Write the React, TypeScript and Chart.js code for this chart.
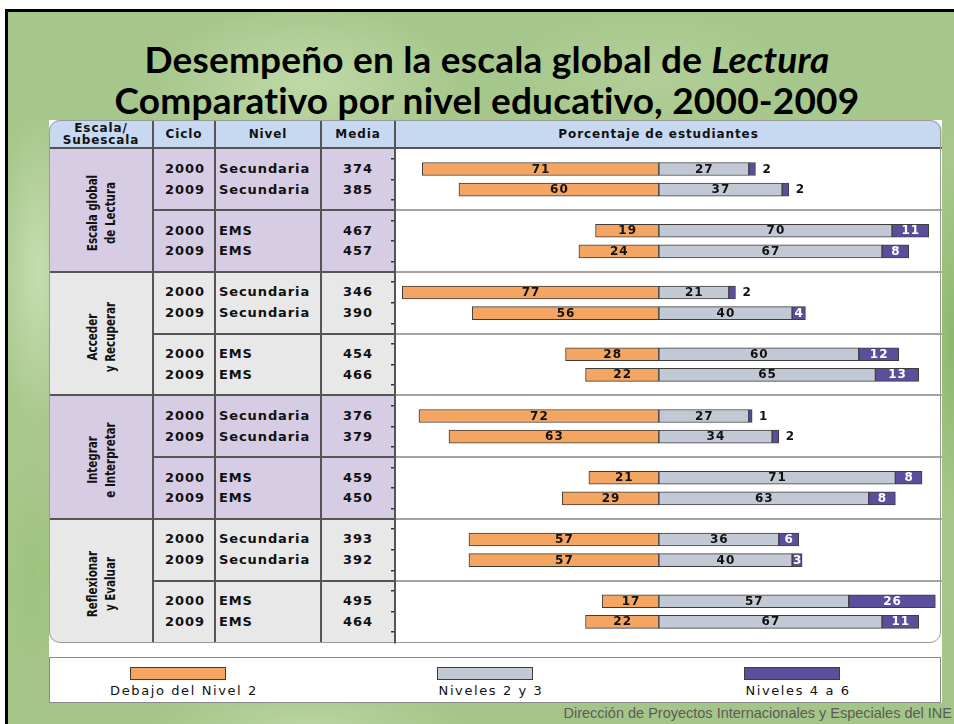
import React, { useEffect, useRef } from 'react';
import { Chart, registerables } from 'chart.js';

Chart.register(...registerables);

// ---------- data ----------
const titleLine1 = 'Desempeño en la escala global de ';
const titleItalic = 'Lectura';
const titleLine2 = 'Comparativo por nivel educativo, 2000-2009';
const headers = ['Escala/\nSubescala', 'Ciclo', 'Nivel', 'Media', 'Porcentaje de estudiantes'];
const escalas = ['Escala global\nde Lectura', 'Acceder\ny Recuperar', 'Integrar\ne Interpretar', 'Reflexionar\ny Evaluar'];
const ciclos = ['2000', '2009', '2000', '2009', '2000', '2009', '2000', '2009', '2000', '2009', '2000', '2009', '2000', '2009', '2000', '2009'];
const niveles = ['Secundaria', 'Secundaria', 'EMS', 'EMS', 'Secundaria', 'Secundaria', 'EMS', 'EMS', 'Secundaria', 'Secundaria', 'EMS', 'EMS', 'Secundaria', 'Secundaria', 'EMS', 'EMS'];
const medias = [374, 385, 467, 457, 346, 390, 454, 466, 376, 379, 459, 450, 393, 392, 495, 464];
const debajoNivel2 = [71, 60, 19, 24, 77, 56, 28, 22, 72, 63, 21, 29, 57, 57, 17, 22];
const niveles2y3 = [27, 37, 70, 67, 21, 40, 60, 65, 27, 34, 71, 63, 36, 40, 57, 67];
const niveles4a6 = [2, 2, 11, 8, 2, 4, 12, 13, 1, 2, 8, 8, 6, 3, 26, 11];
const seriesNames = ['Debajo del Nivel 2', 'Niveles 2 y 3', 'Niveles 4 a 6'];
const footer = 'Dirección de Proyectos Internacionales y Especiales del INE';

// ---------- styles / layout ----------
const COLORS = ['#F4A562', '#C2C9D5', '#5B4F9D'];
const BAR_BORDER = '#3d3d3d';
const W = 954;
const H = 724;
const PLOT_L = 395;
const PLOT_R = 942;
const PLOT_T = 148.4;
const PLOT_B = 642.4;
const SLOTS = 24;
const SLOT = (PLOT_B - PLOT_T) / SLOTS;
const X_MIN = -79.2;
const X_MAX = 85;
const TBL_L = 49;
const TBL_T = 120;
const TBL_W = 893;
const TBL_H = 523;
const LINE = '#555';
const FONT = '"DejaVu Sans", Verdana, sans-serif';

const rowPos = (i: number) => Math.floor(i / 2) * 3 + (i % 2) + 1;
const yOf = (pos: number) => PLOT_T + pos * SLOT;
const valueSets = [debajoNivel2, niveles2y3, niveles4a6];

const labelPlugin = {
  id: 'barLabels',
  afterDatasetsDraw(chart: any) {
    const ctx = chart.ctx;
    ctx.save();
    ctx.font = `bold 12px ${FONT}`;
    (ctx as any).letterSpacing = '1px';
    ctx.textBaseline = 'middle';
    chart.data.datasets.forEach((_ds: any, di: number) => {
      const meta = chart.getDatasetMeta(di);
      meta.data.forEach((bar: any, i: number) => {
        const v = valueSets[di][i];
        const { x, base, y } = bar.getProps(['x', 'base', 'y'], true);
        const left = Math.min(x, base);
        const right = Math.max(x, base);
        if (di === 2 && v <= 2) {
          ctx.fillStyle = '#111';
          ctx.textAlign = 'left';
          ctx.fillText(String(v), right + 7, y + 0.5);
        } else {
          ctx.fillStyle = di === 2 ? '#fff' : '#111';
          ctx.textAlign = 'center';
          ctx.fillText(String(v), (left + right) / 2 + 0.5, y + 0.5);
        }
      });
    });
    ctx.restore();
  },
};

const GREEN_BG = [
  'radial-gradient(ellipse 220px 110px at 300px 70px, rgba(208,228,188,0.6), rgba(208,228,188,0) 70%)',
  'radial-gradient(ellipse 200px 90px at 640px 60px, rgba(190,215,165,0.5), rgba(190,215,165,0) 70%)',
  'radial-gradient(ellipse 60px 220px at 30px 260px, rgba(210,230,192,0.7), rgba(210,230,192,0) 70%)',
  'radial-gradient(ellipse 40px 260px at 945px 330px, rgba(120,172,88,0.6), rgba(120,172,88,0) 70%)',
  'radial-gradient(ellipse 240px 60px at 300px 712px, rgba(200,222,180,0.6), rgba(200,222,180,0) 70%)',
  'radial-gradient(ellipse 50px 160px at 25px 560px, rgba(150,190,115,0.5), rgba(150,190,115,0) 70%)',
  'linear-gradient(180deg, #a6c78b 0%, #a9c98d 50%, #a3c587 100%)',
].join(', ');

const rowText: React.CSSProperties = {
  position: 'absolute',
  height: 16,
  lineHeight: '16px',
  fontSize: 13,
  fontWeight: 'bold',
  letterSpacing: '0.9px',
  color: '#111',
  whiteSpace: 'nowrap',
};

export default function App() {
  const canvasRef = useRef<HTMLCanvasElement | null>(null);

  useEffect(() => {
    const canvas = canvasRef.current;
    if (!canvas) return;
    const chart = new Chart(canvas, {
      type: 'bar',
      data: {
        datasets: [
          {
            label: seriesNames[0],
            data: debajoNivel2.map((v, i) => ({ x: -v, y: rowPos(i) })),
            backgroundColor: COLORS[0],
          },
          {
            label: seriesNames[1],
            data: niveles2y3.map((v, i) => ({ x: v, y: rowPos(i) })),
            backgroundColor: COLORS[1],
          },
          {
            label: seriesNames[2],
            data: niveles4a6.map((v, i) => ({ x: v, y: rowPos(i) })),
            backgroundColor: COLORS[2],
          },
        ].map((d) => ({
          ...d,
          stack: 'pct',
          borderColor: BAR_BORDER,
          borderWidth: 1,
          borderSkipped: false,
          barThickness: 13,
        })) as any,
      },
      options: {
        indexAxis: 'y',
        responsive: false,
        animation: false,
        devicePixelRatio: 1,
        layout: {
          padding: { left: PLOT_L - 4, right: W - PLOT_R, top: PLOT_T, bottom: H - PLOT_B },
        },
        plugins: { legend: { display: false }, tooltip: { enabled: false } },
        scales: {
          x: { type: 'linear', stacked: true, min: X_MIN, max: X_MAX, display: false },
          y: {
            type: 'linear',
            min: 0,
            max: SLOTS,
            reverse: true,
            offset: false,
            position: 'left',
            afterFit: (s: any) => {
              s.width = 4;
            },
            afterBuildTicks: (s: any) => {
              s.ticks = Array.from({ length: SLOTS }, (_, k) => ({ value: k + 0.5 }));
            },
            ticks: { display: false },
            grid: { offset: false, drawOnChartArea: false, drawTicks: true, tickLength: 4, color: '#333', lineWidth: 1.5 },
            border: { display: true, color: LINE, width: 2 },
          },
          y2: {
            type: 'linear',
            min: 0,
            max: SLOTS,
            reverse: true,
            offset: false,
            position: 'right',
            afterFit: (s: any) => {
              s.width = 0;
            },
            ticks: { display: false, stepSize: 3 },
            grid: {
              offset: false,
              drawTicks: false,
              lineWidth: 2,
              color: (c: any) => (c.tick && c.tick.value > 0 && c.tick.value < SLOTS ? '#a3a3a3' : 'rgba(0,0,0,0)'),
            },
            border: { display: false },
          },
        } as any,
      },
      plugins: [labelPlugin],
    });
    return () => chart.destroy();
  }, []);

  const groupH = 6 * SLOT;

  return (
    <div
      style={{
        position: 'absolute',
        left: 0,
        top: 0,
        width: W,
        height: H,
        overflow: 'hidden',
        background: '#fff',
        fontFamily: FONT,
      }}
    >
      {/* slide background */}
      <div
        style={{
          position: 'absolute',
          left: 5,
          top: 9,
          width: W - 5,
          height: H - 9,
          boxSizing: 'border-box',
          borderTop: '3px solid #000',
          borderLeft: '3px solid #000',
          background: GREEN_BG,
        }}
      />
      {/* title */}
      <div
        style={{
          position: 'absolute',
          left: 10,
          top: 38,
          width: W,
          textAlign: 'center',
          fontFamily: 'Lato, "Open Sans", sans-serif',
          fontWeight: 'bold',
          fontSize: 37,
          lineHeight: '41px',
          letterSpacing: '0.2px',
          color: '#000',
          whiteSpace: 'nowrap',
        }}
      >
        <div>
          {titleLine1}
          <i>{titleItalic}</i>
        </div>
        <div>{titleLine2}</div>
      </div>

      {/* white backdrop for table + legend */}
      <div style={{ position: 'absolute', left: TBL_L, top: TBL_T, width: TBL_W, height: 583, background: '#fff' }} />

      {/* table body (clipped, rounded) */}
      <div
        style={{
          position: 'absolute',
          left: TBL_L,
          top: TBL_T,
          width: TBL_W,
          height: TBL_H,
          borderRadius: 11,
          overflow: 'hidden',
          background: '#fff',
        }}
      >
        <div style={{ position: 'absolute', left: 0, top: 0, width: TBL_W, height: 28, background: '#C6D9F1' }} />
        {escalas.map((_, g) => (
          <div
            key={'gb' + g}
            style={{
              position: 'absolute',
              left: 0,
              top: yOf(6 * g) - TBL_T,
              width: PLOT_L - TBL_L,
              height: groupH,
              background: g % 2 === 0 ? '#D6CDE5' : '#E8E8E8',
            }}
          />
        ))}
        <div style={{ position: 'absolute', left: 0, top: 27, width: TBL_W, height: 2, background: LINE }} />
        {[153, 215, 321, 395].map((x) => (
          <div key={'cl' + x} style={{ position: 'absolute', left: x - TBL_L - 1, top: 0, width: 2, height: TBL_H, background: LINE }} />
        ))}
        {[1, 2, 3].map((k) => (
          <div
            key={'gl' + k}
            style={{ position: 'absolute', left: 0, top: yOf(6 * k) - TBL_T - 1, width: PLOT_L - TBL_L, height: 2, background: LINE }}
          />
        ))}
        {[0, 1, 2, 3].map((k) => (
          <div
            key={'sl' + k}
            style={{ position: 'absolute', left: 153 - TBL_L, top: yOf(6 * k + 3) - TBL_T - 1, width: PLOT_L - 153, height: 2, background: LINE }}
          />
        ))}
      </div>
      {/* table outline */}
      <div
        style={{
          position: 'absolute',
          left: TBL_L,
          top: TBL_T,
          width: TBL_W - 1,
          height: TBL_H,
          boxSizing: 'border-box',
          border: '1px solid #9a9a9a',
          borderRadius: 11,
        }}
      />

      {/* header texts */}
      <div
        style={{
          position: 'absolute',
          left: TBL_L,
          top: 122,
          width: 153 - TBL_L,
          textAlign: 'center',
          fontSize: 12,
          fontWeight: 'bold',
          lineHeight: '12px',
          letterSpacing: '0.9px',
          whiteSpace: 'pre',
          color: '#111',
        }}
      >
        {headers[0]}
      </div>
      {[
        [153, 215, headers[1]],
        [215, 321, headers[2]],
        [321, 395, headers[3]],
        [395, 922, headers[4]],
      ].map(([a, b, t]) => (
        <div
          key={'h' + t}
          style={{
            position: 'absolute',
            left: a as number,
            top: 126,
            width: (b as number) - (a as number),
            textAlign: 'center',
            fontSize: 12,
            fontWeight: 'bold',
            lineHeight: '16px',
            letterSpacing: '0.9px',
            color: '#111',
            whiteSpace: 'nowrap',
          }}
        >
          {t}
        </div>
      ))}

      {/* scale group labels (rotated) */}
      {escalas.map((t, g) => (
        <div
          key={'esc' + g}
          style={{
            position: 'absolute',
            left: 101,
            top: yOf(6 * g + 3) + 3,
            transform: 'translate(-50%, -50%) rotate(-90deg) scaleX(0.82)',
            fontFamily: '"Liberation Sans Narrow", "DejaVu Sans Condensed", sans-serif',
            fontWeight: 'bold',
            fontSize: 14,
            lineHeight: '18px',
            whiteSpace: 'pre',
            textAlign: 'center',
            color: '#111',
          }}
        >
          {t}
        </div>
      ))}

      {/* row texts */}
      {ciclos.map((c, i) => {
        const top = yOf(rowPos(i)) - 8;
        return (
          <React.Fragment key={'r' + i}>
            <div style={{ ...rowText, left: 154, top, width: 62, textAlign: 'center' }}>{c}</div>
            <div style={{ ...rowText, left: 219, top }}>{niveles[i]}</div>
            <div style={{ ...rowText, left: 321, top, width: 74, textAlign: 'center' }}>{medias[i]}</div>
          </React.Fragment>
        );
      })}

      {/* legend */}
      <div
        style={{
          position: 'absolute',
          left: TBL_L,
          top: 657,
          width: TBL_W - 1,
          height: 46,
          boxSizing: 'border-box',
          border: '1px solid #8a8a8a',
          background: '#fff',
        }}
      />
      {seriesNames.map((n, k) => {
        const sx = [130, 437, 744][k];
        return (
          <React.Fragment key={'lg' + k}>
            <div
              style={{
                position: 'absolute',
                left: sx,
                top: 667,
                width: 96,
                height: 13,
                boxSizing: 'border-box',
                border: `1px solid ${BAR_BORDER}`,
                background: COLORS[k],
              }}
            />
            <div
              style={{
                position: 'absolute',
                left: sx + 48 + 6 - 100,
                top: 682,
                width: 200,
                textAlign: 'center',
                fontSize: 13,
                lineHeight: '17px',
                letterSpacing: '1.6px',
                color: '#111',
                whiteSpace: 'nowrap',
              }}
            >
              {n}
            </div>
          </React.Fragment>
        );
      })}

      {/* footer */}
      <div
        style={{
          position: 'absolute',
          right: 2,
          top: 704,
          fontFamily: '"Liberation Sans", Arial, sans-serif',
          fontSize: 14.5,
          lineHeight: '19px',
          color: '#5b5b5b',
          whiteSpace: 'nowrap',
        }}
      >
        {footer}
      </div>

      <canvas
        ref={canvasRef}
        width={W}
        height={H}
        style={{ position: 'absolute', left: 0, top: 0, width: W, height: H, pointerEvents: 'none' }}
      />
    </div>
  );
}
